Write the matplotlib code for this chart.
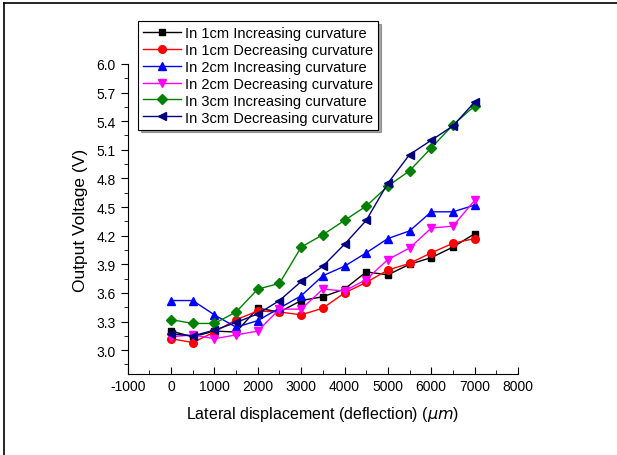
import numpy as np
import matplotlib
matplotlib.use('Agg')
import matplotlib.pyplot as plt
from matplotlib.ticker import MultipleLocator

plt.rcParams['font.family'] = ['Liberation Sans', 'DejaVu Sans']
plt.rcParams['axes.unicode_minus'] = False

# lateral displacement in um
x_um = [0, 500, 1000, 1500, 2000, 2500, 3000, 3500, 4000, 4500, 5000, 5500, 6000, 6500, 7000]

v_1cm_inc = [3.20, 3.14, 3.20, 3.19, 3.44, 3.40, 3.52, 3.56, 3.64, 3.82, 3.79, 3.90, 3.97, 4.08, 4.22]
v_1cm_dec = [3.12, 3.08, 3.19, 3.32, 3.41, 3.40, 3.37, 3.44, 3.60, 3.71, 3.84, 3.91, 4.02, 4.12, 4.17]
v_2cm_inc = [3.52, 3.52, 3.37, 3.24, 3.31, 3.44, 3.57, 3.78, 3.88, 4.02, 4.17, 4.25, 4.45, 4.45, 4.52]
v_2cm_dec = [3.14, 3.16, 3.12, 3.16, 3.20, 3.43, 3.43, 3.64, 3.62, 3.74, 3.95, 4.07, 4.28, 4.30, 4.57]
v_3cm_inc = [3.32, 3.28, 3.28, 3.40, 3.64, 3.70, 4.08, 4.21, 4.36, 4.51, 4.72, 4.88, 5.12, 5.36, 5.56]
v_3cm_dec = [3.17, 3.15, 3.21, 3.29, 3.38, 3.52, 3.72, 3.88, 4.11, 4.36, 4.75, 5.05, 5.20, 5.35, 5.60]

series = [
    ('In 1cm Increasing curvature', v_1cm_inc, 'black', 's', 5),
    ('In 1cm Decreasing curvature', v_1cm_dec, 'red', 'o', 5.5),
    ('In 2cm Increasing curvature', v_2cm_inc, 'blue', '^', 6),
    ('In 2cm Decreasing curvature', v_2cm_dec, 'magenta', 'v', 6),
    ('In 3cm Increasing curvature', v_3cm_inc, '#008000', 'D', 5),
    ('In 3cm Decreasing curvature', v_3cm_dec, '#000080', '<', 6),
]

fig = plt.figure(figsize=(6.17, 4.56), dpi=100)
ax = fig.add_axes([0.207, 0.1776, 0.6325, 0.68])

for label, vals, col, mk, ms in series:
    ax.plot(x_um, vals, color=col, marker=mk, markersize=ms, linewidth=1, label=label)

ax.set_xlim(-1000, 8000)
ax.set_ylim(2.75, 6.0)
ax.xaxis.set_major_locator(MultipleLocator(1000))
ax.xaxis.set_minor_locator(MultipleLocator(500))
ax.yaxis.set_minor_locator(MultipleLocator(0.15))
ax.set_yticks(np.arange(3.0, 6.01, 0.3))
ax.set_yticklabels(['%.1f' % v for v in np.arange(3.0, 6.01, 0.3)])

ax.spines['top'].set_visible(False)
ax.spines['right'].set_visible(False)
ax.tick_params(axis='x', which='both', direction='in', labelsize=10)
ax.tick_params(axis='y', which='both', direction='out', labelsize=10)
ax.tick_params(which='major', length=5)
ax.tick_params(which='minor', length=3)

ax.set_xlabel('Lateral displacement (deflection) ($\\mu m$)', fontsize=11.5, labelpad=8)
ax.set_ylabel('Output Voltage (V)', fontsize=12.5, labelpad=6)

leg = ax.legend(loc='upper left', bbox_to_anchor=(0.026, 1.139), borderaxespad=0,
                fontsize=10.5, frameon=True, fancybox=False, shadow=True,
                handlelength=2.6, labelspacing=0.2, borderpad=0.35, handletextpad=0.3)
leg.get_frame().set_edgecolor('black')
leg.get_frame().set_linewidth(0.8)

# border around picture (top and left only visible in reference)
fig.add_artist(plt.Line2D([0.006, 1.0], [0.992, 0.992], transform=fig.transFigure, color='black', lw=1.2))
fig.add_artist(plt.Line2D([0.006, 0.006], [0.0, 0.992], transform=fig.transFigure, color='black', lw=1.2))

fig.savefig('out.png', dpi=100)
